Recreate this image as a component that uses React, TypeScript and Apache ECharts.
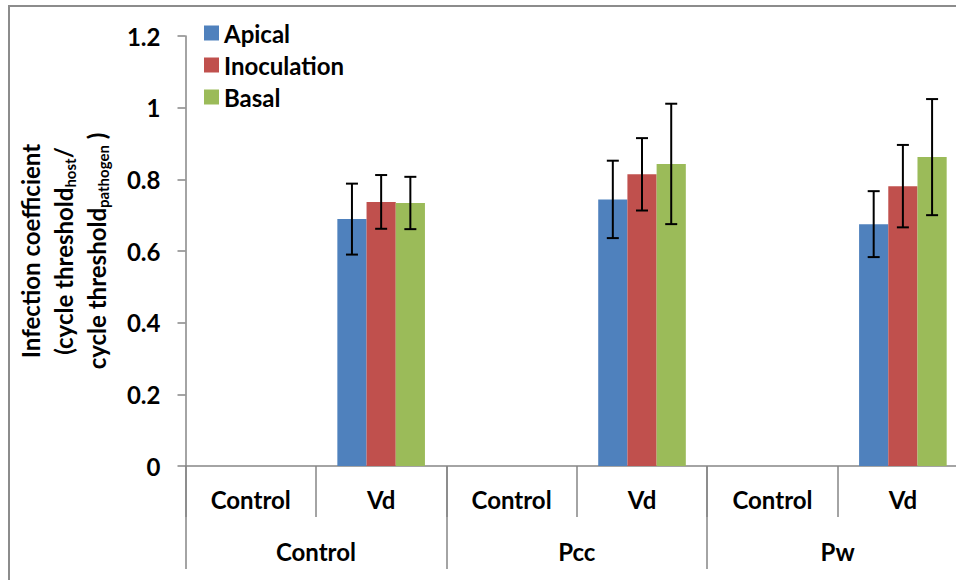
import React, { useEffect, useRef } from "react";
import * as echarts from "echarts";

const subCategories = ["Control", "Vd", "Control", "Vd", "Control", "Vd"];
const groupCategories = ["Control", "Pcc", "Pw"];
const seriesNames = ["Apical", "Inoculation", "Basal"];
const seriesColors = ["#4F81BD", "#C0504D", "#9BBB59"];

const apicalValues = [0, 0.689, 0, 0.744, 0, 0.675];
const inoculationValues = [0, 0.737, 0, 0.814, 0, 0.781];
const basalValues = [0, 0.734, 0, 0.843, 0, 0.862];

const apicalErrors = [0, 0.099, 0, 0.108, 0, 0.092];
const inoculationErrors = [0, 0.075, 0, 0.101, 0, 0.115];
const basalErrors = [0, 0.073, 0, 0.168, 0, 0.162];

const yTicks = { min: 0, max: 1.2, interval: 0.2 };

const FONT = "Lato";
const FS = 24;
const BAR_W = 29.2;

export default function App() {
  const ref = useRef<HTMLDivElement>(null);
  useEffect(() => {
    document.body.style.margin = "0";
    document.body.style.overflow = "hidden";
    const chart = echarts.init(ref.current!, null, { renderer: "svg" });
    const values = [apicalValues, inoculationValues, basalValues];
    const errors = [apicalErrors, inoculationErrors, basalErrors];

    const barSeries = seriesNames.map((name, i) => ({
      name,
      type: "bar",
      xAxisIndex: 0,
      yAxisIndex: 0,
      data: values[i],
      barWidth: BAR_W,
      barGap: "0%",
      itemStyle: { color: seriesColors[i] },
    }));

    const errSeries = seriesNames.map((name, i) => ({
      name: name + " error",
      type: "custom",
      xAxisIndex: 0,
      yAxisIndex: 0,
      z: 10,
      encode: { x: 0, y: 1 },
      data: values[i].map((v, k) => [k, v, errors[i][k]]),
      renderItem: (params: any, api: any) => {
        const cat = api.value(0);
        const v = api.value(1);
        const e = api.value(2);
        if (!v) return null;
        const top = api.coord([cat, v + e]);
        const bot = api.coord([cat, v - e]);
        const x = top[0] + (i - 1) * BAR_W;
        const style = { stroke: "#000", lineWidth: 2 };
        const cw = 6;
        return {
          type: "group",
          children: [
            { type: "line", shape: { x1: x, y1: top[1], x2: x, y2: bot[1] }, style },
            { type: "line", shape: { x1: x - cw, y1: top[1], x2: x + cw, y2: top[1] }, style },
            { type: "line", shape: { x1: x - cw, y1: bot[1], x2: x + cw, y2: bot[1] }, style },
          ],
        };
      },
    }));

    const labelStyle = { color: "#000", fontFamily: FONT, fontWeight: "bold", fontSize: FS };

    chart.setOption({
      animation: false,
      grid: { left: 185.5, top: 36, width: 782.6, height: 430, containLabel: false, outerBoundsMode: "none" },
      legend: {
        data: seriesNames,
        orient: "vertical",
        left: 199,
        top: 16,
        icon: "rect",
        itemWidth: 15,
        itemHeight: 15,
        itemGap: 8,
        textStyle: { ...labelStyle },
      },
      xAxis: [
        {
          type: "category",
          data: subCategories,
          position: "bottom",
          axisLine: { show: true, lineStyle: { color: "#868686", width: 1.5 } },
          axisTick: { show: true, length: 51, interval: 0, alignWithLabel: false, lineStyle: { color: "#868686", width: 1.5 } },
          axisLabel: { ...labelStyle, margin: 21, interval: 0 },
          splitLine: { show: false },
        },
        {
          type: "category",
          data: groupCategories,
          position: "bottom",
          axisLine: { show: false },
          axisTick: { show: true, length: 103, interval: 0, alignWithLabel: false, lineStyle: { color: "#868686", width: 1.5 } },
          axisLabel: { ...labelStyle, margin: 73, interval: 0 },
          splitLine: { show: false },
        },
      ],
      yAxis: {
        type: "value",
        min: yTicks.min,
        max: yTicks.max,
        interval: yTicks.interval,
        axisLine: { show: true, lineStyle: { color: "#868686", width: 1.5 } },
        axisTick: { show: true, length: 8, lineStyle: { color: "#868686", width: 1.5 } },
        axisLabel: { ...labelStyle, margin: 25 },
        splitLine: { show: false },
      },
      graphic: [
        {
          type: "rect",
          shape: { x: 9, y: 6, width: 1000, height: 700 },
          style: { fill: "none", stroke: "#8C8C8C", lineWidth: 2 },
          silent: true,
          z: -1,
        },
        {
          type: "text",
          x: 63,
          y: 251,
          rotation: Math.PI / 2,
          style: {
            text:
              "{n|Infection coefficient}\n{n|(cycle threshold}{s|host}{n|/}\n{n|cycle threshold}{s|pathogen}{n| )}",
            align: "center",
            verticalAlign: "middle",
            fill: "#000",
            rich: {
              n: { fontFamily: FONT, fontWeight: "bold", fontSize: FS, lineHeight: 33, fill: "#000" },
              s: { fontFamily: FONT, fontWeight: "bold", fontSize: 15, lineHeight: 33, verticalAlign: "bottom", fill: "#000", padding: [0, 0, 2, 0] },
            },
          },
        },
      ],
      series: [...barSeries, ...errSeries],
    });
    return () => chart.dispose();
  }, []);
  return <div ref={ref} style={{ width: 990, height: 580 }} />;
}
